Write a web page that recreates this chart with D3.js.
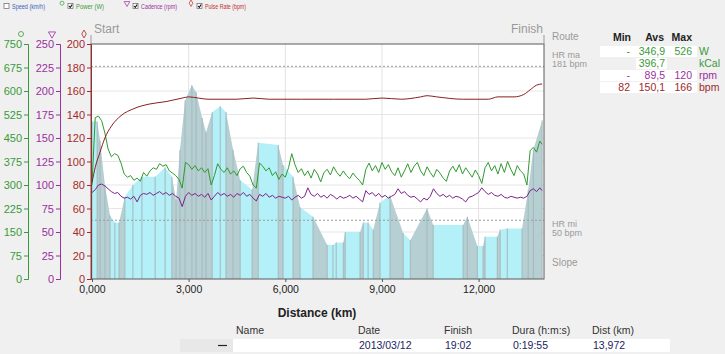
<!DOCTYPE html>
<html>
<head>
<meta charset="utf-8">
<script src="https://cdn.jsdelivr.net/npm/d3@7"></script>
<style>
  body { margin: 0; background: #f0f0f0; }
  svg { display: block; font-family: "Liberation Sans", Arial, sans-serif; }
</style>
</head>
<body>
<div id="chart"></div>
<script>
// ride totals
const rideDistance = 13.972;
const sampleStep = 0.1; // power / cadence sampled every 100 m

// power (W), one value per 100 m
const powerValues = [
  300, 515, 520, 505, 466, 415, 390, 400, 395, 370,
  335, 325, 330, 315, 322, 312, 340, 328, 345, 355,
  350, 368, 360, 365, 345, 338, 330, 318, 290, 372,
  365, 350, 362, 345, 355, 340, 352, 300, 330, 368,
  350, 340, 355, 335, 345, 330, 352, 360, 340, 328,
  300, 290, 370, 360, 345, 355, 330, 342, 318, 335,
  325, 355, 400, 365, 340, 352, 330, 345, 322, 350,
  335, 310, 340, 350, 332, 358, 340, 328, 345, 330,
  320, 338, 325, 315, 300, 350, 370, 345, 362, 340,
  372, 350, 365, 342, 330, 355, 325, 345, 368, 340,
  360, 372, 345, 330, 358, 340, 325, 350, 338, 322,
  312, 345, 360, 342, 365, 335, 355, 340, 325, 348,
  330, 305, 355, 372, 345, 362, 335, 368, 340, 375,
  350, 330, 362, 345, 335, 300, 410, 420, 405, 440,
  430
];

// cadence (rpm), one value per 100 m
const cadenceValues = [
  92, 95, 100, 101, 99, 96, 93, 91, 92, 88,
  86, 87, 85, 88, 82, 89, 91, 90, 92, 89,
  91, 93, 90, 92, 89, 91, 88, 86, 77, 88,
  92, 89, 91, 88, 90, 87, 91, 84, 88, 92,
  89, 91, 88, 90, 87, 91, 89, 92, 88, 90,
  86, 83, 90, 88, 91, 87, 89, 86, 88, 87,
  86, 88, 84, 87, 89, 86, 88, 97, 90, 88,
  91, 87, 89, 86, 90, 88, 85, 88, 86, 87,
  89, 86, 88, 85, 82, 94, 90, 92, 88, 91,
  87, 89, 86, 88, 90, 96, 91, 93, 89, 87,
  88, 85, 82, 86, 84, 88, 96, 91, 88, 90,
  87, 89, 86, 88, 87, 85, 82, 87, 88, 90,
  92, 97, 93, 90, 92, 89, 88, 90, 87, 86,
  88, 87, 86, 87, 86, 88, 94, 96, 93, 97,
  94
];

// pulse rate (bpm)
const pulseKm = [0, 0.1, 0.25, 0.4, 0.6, 0.9, 1.3, 1.8, 2.3, 2.8, 3.0, 3.3, 3.6, 4.5, 5.0, 5.5, 6.5,
  7.5, 8.5, 9.0, 9.6, 10.2, 10.4, 10.7, 11.5, 12.3, 12.6, 13.1, 13.4, 13.6, 13.8, 13.972];
const pulseValues = [82, 95, 108, 120, 130, 139, 145, 149, 151, 154, 155, 154, 153, 153, 154, 153, 153,
  153, 153, 154, 153, 155, 156, 155, 153, 153, 155, 155, 157, 161, 165, 166];

// route profile (relative height)
const routeKm = [0, 0.16, 0.25, 0.40, 0.56, 0.71, 0.84, 1.02, 1.27, 1.55, 1.96, 2.27, 2.48, 2.61, 2.73,
  2.89, 3.10, 3.23, 3.42, 3.54, 3.73, 3.98, 4.16, 4.38, 4.60, 4.97, 5.16, 5.78, 5.93, 6.24, 6.46,
  6.86, 7.30, 7.48, 7.58, 7.80, 7.86, 8.32, 8.42, 8.57, 8.73, 8.94, 9.25, 9.66, 9.88, 10.40, 10.59,
  11.52, 11.65, 11.96, 12.14, 12.20, 12.58, 12.67, 12.89, 13.35, 13.54, 13.70, 13.972];
const routeValues = [134, 134, 118, 80, 54, 48, 48, 70, 80, 87, 87, 95, 87, 67, 110,
  152, 165, 159, 137, 125, 142, 147, 142, 110, 84, 76, 116, 114, 97, 87, 61,
  53, 29, 29, 31, 31, 40, 40, 48, 48, 42, 65, 71, 39, 33, 60, 46,
  46, 53, 28, 28, 36, 36, 42, 43, 43, 76, 110, 135];

const powerTicks = [0, 75, 150, 225, 300, 375, 450, 525, 600, 675, 750];
const cadenceTicks = [0, 25, 50, 75, 100, 125, 150, 175, 200, 225, 250];
const pulseTicks = [0, 20, 40, 60, 80, 100, 120, 140, 160, 180, 200];
const distanceTicks = [0, 3, 6, 9, 12];
const hrMax = 181, hrMin = 50;

const summaryRows = [
  { min: "-", avg: "346,9", max: "526", unit: "W", color: "#3a9a3a" },
  { min: "", avg: "396,7", max: "", unit: "kCal", color: "#3a9a3a" },
  { min: "-", avg: "89,5", max: "120", unit: "rpm", color: "#9a2fa0" },
  { min: "82", avg: "150,1", max: "166", unit: "bpm", color: "#a02828" }
];
const rideHeaders = ["Name", "Date", "Finish", "Dura (h:m:s)", "Dist (km)"];
const rideValues = ["", "2013/03/12", "19:02", "0:19:55", "13,972"];

const width = 725, height = 354;
const plot = { left: 91, right: 544, top: 44, bottom: 279 };

const greenC = "#3a9a3a", purpleC = "#9a2fa0", redC = "#a52a2a";

const svg = d3.select("#chart").append("svg")
  .attr("width", width).attr("height", height);

svg.append("rect").attr("width", width).attr("height", height).attr("fill", "#f0f0f0");

// scales
const x = d3.scaleLinear().domain([0, 14.03]).range([plot.left + 1, plot.right]);
const yPulse = d3.scaleLinear().domain([0, 200]).range([plot.bottom, plot.top]);
const yPower = d3.scaleLinear().domain([0, 750]).range([plot.bottom, plot.top]);
const yCad = d3.scaleLinear().domain([0, 250]).range([plot.bottom, plot.top]);
const yRoute = d3.scaleLinear().domain([0, 200]).range([plot.bottom, plot.top]);

const sampleKm = i => Math.min(i * sampleStep, rideDistance);

// plot background
svg.append("rect")
  .attr("x", plot.left).attr("y", plot.top)
  .attr("width", plot.right - plot.left).attr("height", plot.bottom - plot.top)
  .attr("fill", "#fff");

// grid
const grid = svg.append("g");
grid.selectAll("line.h")
  .data(pulseTicks.filter(d => d > 0 && d < 200))
  .join("line")
  .attr("x1", plot.left).attr("x2", plot.right)
  .attr("y1", d => yPulse(d)).attr("y2", d => yPulse(d))
  .attr("stroke", "#e6e6e6");
grid.selectAll("line.v")
  .data(distanceTicks.filter(d => d > 0))
  .join("line")
  .attr("x1", d => x(d)).attr("x2", d => x(d))
  .attr("y1", plot.top).attr("y2", plot.bottom)
  .attr("stroke", "#e2e2e2");

// route profile, segments coloured by steepness
const routePts = routeKm.map((k, i) => [k, routeValues[i]]);
const segs = d3.pairs(routePts);
svg.append("g").selectAll("path")
  .data(segs)
  .join("path")
  .attr("d", ([a, b]) => `M${x(a[0])},${yRoute(0)}L${x(a[0])},${yRoute(a[1])}L${x(b[0])},${yRoute(b[1])}L${x(b[0])},${yRoute(0)}Z`)
  .attr("fill", ([a, b]) => Math.abs((b[1] - a[1]) / (b[0] - a[0])) > 45 ? "#b6cfd2" : "#b3f0f8");
svg.append("g").selectAll("line")
  .data(routePts)
  .join("line")
  .attr("x1", d => x(d[0])).attr("x2", d => x(d[0]))
  .attr("y1", d => yRoute(d[1])).attr("y2", yRoute(0))
  .attr("stroke", "#a3b7ba").attr("stroke-width", 1);

// HR limits
svg.selectAll("line.hr")
  .data([hrMax, hrMin])
  .join("line")
  .attr("x1", plot.left).attr("x2", plot.right)
  .attr("y1", d => yPulse(d)).attr("y2", d => yPulse(d))
  .attr("stroke", "#9a9a9a").attr("stroke-dasharray", "2,2");

// lines
const powerLine = d3.line().x((d, i) => x(sampleKm(i))).y(d => yPower(d));
const cadLine = d3.line().x((d, i) => x(sampleKm(i))).y(d => yCad(d));
const pulseLine = d3.line().x((d, i) => x(pulseKm[i])).y(d => yPulse(d)).curve(d3.curveMonotoneX);

svg.append("path").datum(powerValues).attr("d", powerLine)
  .attr("fill", "none").attr("stroke", "#2f9a2f").attr("stroke-width", 1);
svg.append("path").datum(cadenceValues).attr("d", cadLine)
  .attr("fill", "none").attr("stroke", "#7b2389").attr("stroke-width", 1);
svg.append("path").datum(pulseValues).attr("d", pulseLine)
  .attr("fill", "none").attr("stroke", "#8b1f1f").attr("stroke-width", 1);

// frame
svg.append("rect")
  .attr("x", plot.left).attr("y", plot.top)
  .attr("width", plot.right - plot.left).attr("height", plot.bottom - plot.top)
  .attr("fill", "none").attr("stroke", "#5a5a5a");

// y axes
function yAxis(scale, ticks, xPos, color) {
  const g = svg.append("g")
    .attr("transform", `translate(${xPos},0)`)
    .call(d3.axisLeft(scale).tickValues(ticks).tickSize(4).tickPadding(2));
  g.select(".domain").attr("stroke", color);
  g.selectAll(".tick line").attr("stroke", color);
  g.selectAll(".tick text").attr("fill", color)
    .style("font-size", "11px").style("font-family", "Liberation Sans, Arial, sans-serif");
  return g;
}
yAxis(yPower, powerTicks, 28, greenC);
yAxis(yCad, cadenceTicks, 60, purpleC);
yAxis(yPulse, pulseTicks, plot.left, redC);

// axis markers above the scales
svg.append("circle").attr("cx", 21).attr("cy", 34).attr("r", 2.5)
  .attr("fill", "none").attr("stroke", greenC).attr("stroke-width", 0.8);
svg.append("path").attr("d", d3.symbol(d3.symbolTriangle, 22)())
  .attr("transform", `translate(52,34) rotate(180)`)
  .attr("fill", "none").attr("stroke", purpleC).attr("stroke-width", 0.8);
svg.append("path").attr("d", d3.symbol(d3.symbolDiamond, 18)())
  .attr("transform", `translate(84,34)`)
  .attr("fill", "none").attr("stroke", redC).attr("stroke-width", 0.8);

// x axis
const locale = d3.formatLocale({ decimal: ",", thousands: ".", grouping: [3], currency: ["", ""] });
const xg = svg.append("g")
  .attr("transform", `translate(0,${plot.bottom})`)
  .call(d3.axisBottom(x).tickValues(distanceTicks).tickSize(3).tickPadding(4)
    .tickFormat(locale.format(".3f")));
xg.select(".domain").remove();
xg.selectAll(".tick line").attr("stroke", "#555");
xg.selectAll(".tick text").attr("fill", "#222")
  .style("font-size", "10.5px").style("font-family", "Liberation Sans, Arial, sans-serif");

svg.append("text")
  .text("Distance (km)")
  .attr("x", 317).attr("y", 317)
  .attr("text-anchor", "middle")
  .attr("font-size", "12px").attr("font-weight", "bold").attr("fill", "#222");

// start / finish
svg.append("text").text("Start").attr("x", 94).attr("y", 33)
  .attr("font-size", "12px").attr("fill", "#9a9a9a");
svg.append("text").text("Finish").attr("x", 543).attr("y", 33)
  .attr("text-anchor", "end").attr("font-size", "12px").attr("fill", "#9a9a9a");
svg.selectAll("line.sf")
  .data([plot.left, plot.right])
  .join("line")
  .attr("x1", d => d).attr("x2", d => d)
  .attr("y1", 35).attr("y2", plot.top)
  .attr("stroke", "#9a9a9a");

// right side labels
const sideLabels = [["Route", 40, 10], ["HR ma", 58, 9], ["181 bpm", 67, 9], ["HR mi", 227, 9], ["50 bpm", 236, 9], ["Slope", 266, 10]];
svg.selectAll("text.side")
  .data(sideLabels)
  .join("text")
  .attr("x", 552).attr("y", d => d[1])
  .text(d => d[0])
  .attr("font-size", d => d[2] + "px").attr("fill", "#9a9a9a");

// legend row at the top
const legendItems = [
  { label: "Speed (km/h)", color: "#3a5fb8", checked: false, marker: null, x: 4, w: 33 },
  { label: "Power (W)", color: greenC, checked: true, marker: "circle", x: 68, w: 28 },
  { label: "Cadence (rpm)", color: purpleC, checked: true, marker: "triangle", x: 133, w: 36 },
  { label: "Pulse Rate (bpm)", color: "#c03030", checked: true, marker: "diamond", x: 197, w: 41 }
];
const lg = svg.append("g");
legendItems.forEach(d => {
  lg.append("rect").attr("x", d.x).attr("y", 3.5).attr("width", 5).attr("height", 5)
    .attr("fill", "#fff").attr("stroke", "#666").attr("stroke-width", 0.7);
  if (d.checked) {
    lg.append("path").attr("d", `M${d.x + 1},${6}L${d.x + 2.3},${7.4}L${d.x + 4.2},${4.5}`)
      .attr("fill", "none").attr("stroke", "#111").attr("stroke-width", 1.1);
  }
  lg.append("text").attr("x", d.x + 8).attr("y", 8.5).text(d.label)
    .attr("font-size", "6.5px").attr("fill", d.color)
    .attr("textLength", d.w).attr("lengthAdjust", "spacingAndGlyphs");
  if (d.marker === "circle") {
    lg.append("circle").attr("cx", d.x - 6).attr("cy", 3.2).attr("r", 2)
      .attr("fill", "none").attr("stroke", d.color).attr("stroke-width", 0.7);
  } else if (d.marker === "triangle") {
    lg.append("path").attr("d", d3.symbol(d3.symbolTriangle, 14)())
      .attr("transform", `translate(${d.x - 6},3.2) rotate(180)`)
      .attr("fill", "none").attr("stroke", d.color).attr("stroke-width", 0.7);
  } else if (d.marker === "diamond") {
    lg.append("path").attr("d", d3.symbol(d3.symbolDiamond, 12)())
      .attr("transform", `translate(${d.x - 6},3.2)`)
      .attr("fill", "none").attr("stroke", d.color).attr("stroke-width", 0.7);
  }
});

// summary table (right)
const tbl = svg.append("g").style("font-size", "10.5px");
[["Min", 631], ["Avs", 664], ["Max", 692]].forEach(([t, xx]) => {
  tbl.append("text").attr("x", xx).attr("y", 41).attr("text-anchor", "end")
    .attr("font-weight", "bold").attr("fill", "#222").text(t);
});
const rowY = [46, 58, 70, 82];
summaryRows.forEach((r, i) => {
  const y0 = rowY[i];
  if (r.min === "" && r.max === "") {
    tbl.append("rect").attr("x", 636).attr("y", y0).attr("width", 31).attr("height", 11).attr("fill", "#fff");
  } else {
    tbl.append("rect").attr("x", 600).attr("y", y0).attr("width", 97).attr("height", 11).attr("fill", "#fff");
  }
  tbl.append("text").attr("x", 630).attr("y", y0 + 9).attr("text-anchor", "end").attr("fill", r.color).text(r.min);
  tbl.append("text").attr("x", 665).attr("y", y0 + 9).attr("text-anchor", "end").attr("fill", r.color).text(r.avg);
  tbl.append("text").attr("x", 692).attr("y", y0 + 9).attr("text-anchor", "end").attr("fill", r.color).text(r.max);
  tbl.append("text").attr("x", 699).attr("y", y0 + 9).attr("fill", r.color).text(r.unit);
});

// ride table (bottom)
const colX = [236, 358, 444, 512, 592];
const bt = svg.append("g").style("font-size", "10.5px");
bt.append("rect").attr("x", 180).attr("y", 339).attr("width", 53).attr("height", 13).attr("fill", "#e8e8e8");
bt.append("rect").attr("x", 233).attr("y", 339).attr("width", 437).attr("height", 13).attr("fill", "#fff");
bt.append("line").attr("x1", 218).attr("x2", 227).attr("y1", 345.5).attr("y2", 345.5)
  .attr("stroke", "#222").attr("stroke-width", 1.2);
rideHeaders.forEach((h, i) => {
  bt.append("text").attr("x", colX[i]).attr("y", 334).attr("fill", "#333").text(h);
  bt.append("text").attr("x", colX[i] + 1).attr("y", 349).attr("fill", "#1a2560").text(rideValues[i]);
});
</script>
</body>
</html>
